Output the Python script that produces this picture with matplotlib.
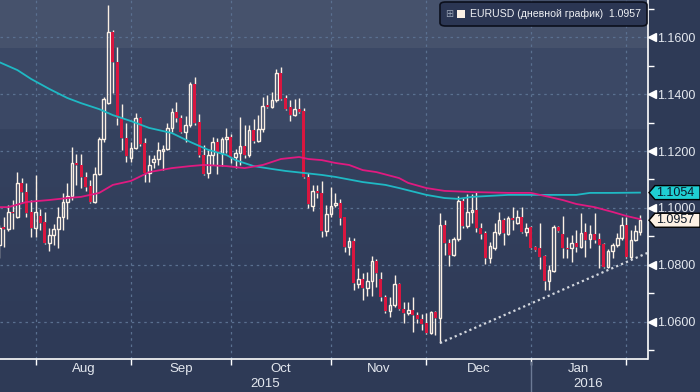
import matplotlib
matplotlib.use('Agg')
import matplotlib.pyplot as plt
import matplotlib.patches as mpatches
from matplotlib.transforms import blended_transform_factory, ScaledTranslation
import numpy as np
import pandas as pd

plt.rcParams['font.family'] = ['Liberation Sans', 'DejaVu Sans']

# EURUSD, дневные свечи (22.07.2015 - 04.02.2016)
opens = [1.0870, 1.0933, 1.0926, 1.0986, 1.0968, 1.1088, 1.1056, 1.0986,
         1.0930, 1.0972, 1.0951, 1.0877, 1.0905, 1.0926, 1.0968, 1.1021, 1.1042, 1.1158, 1.1151, 1.1109,
         1.1077, 1.1021, 1.1119, 1.1242, 1.1370, 1.1618, 1.1512, 1.1316, 1.1246,
         1.1175, 1.1211, 1.1316, 1.1228, 1.1123, 1.1161, 1.1172, 1.1200, 1.1207, 1.1281, 1.1337,
         1.1316, 1.1267, 1.1291, 1.1435, 1.1302, 1.1186, 1.1123, 1.1186, 1.1232, 1.1193, 1.1242,
         1.1249, 1.1179, 1.1193, 1.1218, 1.1186, 1.1274, 1.1235, 1.1277, 1.1361, 1.1354, 1.1379,
         1.1474, 1.1386, 1.1354, 1.1326, 1.1347, 1.1340, 1.1109, 1.1007, 1.1060, 1.1053, 1.0919,
         1.0979, 1.1010, 1.1017, 1.0968, 1.0863, 1.0884, 1.0733, 1.0751, 1.0719, 1.0744, 1.0814,
         1.0751, 1.0688, 1.0638, 1.0659, 1.0733, 1.0645, 1.0631, 1.0642, 1.0624, 1.0610, 1.0596,
         1.0561, 1.0635, 1.0614, 1.0940, 1.0877, 1.0835, 1.0891, 1.1024, 1.0937, 1.0986, 1.0993,
         1.0930, 1.0912, 1.0824, 1.0860, 1.0912, 1.0958, 1.0909, 1.0965, 1.0947, 1.0968, 1.0916,
         1.0933, 1.0863, 1.0860, 1.0831, 1.0744, 1.0779, 1.0933, 1.0909, 1.0860, 1.0860, 1.0877,
         1.0863, 1.0916, 1.0891, 1.0909, 1.0891, 1.0874, 1.0793, 1.0849, 1.0870, 1.0895, 1.0940,
         1.0828, 1.0888, 1.0916]
closes = [1.0930, 1.0926, 1.0986, 1.0982, 1.1088, 1.1056, 1.0982, 1.0930,
          1.0986, 1.0947, 1.0877, 1.0905, 1.0926, 1.0968, 1.1021, 1.1042, 1.1158, 1.1151, 1.1109, 1.1074,
          1.1021, 1.1119, 1.1242, 1.1383, 1.1618, 1.1512, 1.1316, 1.1246, 1.1182,
          1.1211, 1.1316, 1.1225, 1.1123, 1.1151, 1.1172, 1.1204, 1.1207, 1.1281, 1.1337, 1.1316,
          1.1267, 1.1291, 1.1435, 1.1298, 1.1186, 1.1119, 1.1186, 1.1232, 1.1196, 1.1242, 1.1249,
          1.1179, 1.1193, 1.1218, 1.1186, 1.1274, 1.1235, 1.1277, 1.1358, 1.1354, 1.1379, 1.1474,
          1.1383, 1.1347, 1.1326, 1.1347, 1.1337, 1.1109, 1.1014, 1.1060, 1.1053, 1.0919, 1.0979,
          1.1007, 1.1017, 1.0965, 1.0863, 1.0884, 1.0737, 1.0751, 1.0719, 1.0744, 1.0814, 1.0772,
          1.0688, 1.0638, 1.0659, 1.0733, 1.0645, 1.0631, 1.0642, 1.0624, 1.0610, 1.0593, 1.0561,
          1.0635, 1.0614, 1.0940, 1.0877, 1.0835, 1.0891, 1.1024, 1.0937, 1.0986, 1.0993, 1.0930,
          1.0909, 1.0824, 1.0867, 1.0916, 1.0958, 1.0912, 1.0965, 1.0958, 1.0968, 1.0916, 1.0930,
          1.0860, 1.0853, 1.0828, 1.0744, 1.0782, 1.0933, 1.0919, 1.0860, 1.0856, 1.0877, 1.0863,
          1.0912, 1.0888, 1.0909, 1.0888, 1.0870, 1.0793, 1.0849, 1.0870, 1.0895, 1.0940, 1.0828,
          1.0888, 1.0919, 1.0957]
highs = [1.0940, 1.0968, 1.1010, 1.1028, 1.1126, 1.1105, 1.1088, 1.1028,
         1.1116, 1.0996, 1.0986, 1.0930, 1.0944, 1.1003, 1.1053, 1.1088, 1.1214, 1.1190, 1.1190, 1.1126,
         1.1098, 1.1144, 1.1249, 1.1390, 1.1712, 1.1625, 1.1565, 1.1365, 1.1298,
         1.1232, 1.1333, 1.1319, 1.1246, 1.1186, 1.1186, 1.1232, 1.1221, 1.1298, 1.1351, 1.1372,
         1.1326, 1.1323, 1.1442, 1.1460, 1.1330, 1.1221, 1.1204, 1.1249, 1.1246, 1.1249, 1.1281,
         1.1260, 1.1207, 1.1319, 1.1291, 1.1291, 1.1312, 1.1326, 1.1390, 1.1397, 1.1407, 1.1488,
         1.1495, 1.1397, 1.1379, 1.1383, 1.1386, 1.1351, 1.1123, 1.1081, 1.1081, 1.1095, 1.1010,
         1.1074, 1.1053, 1.1032, 1.0968, 1.0898, 1.0895, 1.0789, 1.0772, 1.0775, 1.0831, 1.0821,
         1.0775, 1.0695, 1.0688, 1.0765, 1.0737, 1.0670, 1.0670, 1.0688, 1.0635, 1.0628, 1.0631,
         1.0638, 1.0638, 1.0982, 1.0958, 1.0891, 1.0898, 1.1042, 1.1035, 1.1049, 1.1049, 1.1056,
         1.0947, 1.0919, 1.0881, 1.0947, 1.0986, 1.0965, 1.0972, 1.1003, 1.0993, 1.1003, 1.0947,
         1.0937, 1.0867, 1.0947, 1.0835, 1.0800, 1.0940, 1.0937, 1.0972, 1.0898, 1.0905, 1.0923,
         1.0982, 1.0947, 1.0940, 1.0982, 1.0912, 1.0877, 1.0856, 1.0877, 1.0912, 1.0968, 1.0968,
         1.0923, 1.0940, 1.0975]
lows = [1.0824, 1.0863, 1.0919, 1.0926, 1.0965, 1.1021, 1.0968, 1.0898,
        1.0898, 1.0923, 1.0875, 1.0849, 1.0870, 1.0860, 1.0923, 1.0961, 1.1028, 1.1081, 1.1070, 1.1060,
        1.1017, 1.1019, 1.1116, 1.1232, 1.1365, 1.1404, 1.1291, 1.1204, 1.1161,
        1.1161, 1.1208, 1.1218, 1.1091, 1.1091, 1.1140, 1.1151, 1.1133, 1.1204, 1.1267, 1.1302,
        1.1263, 1.1232, 1.1284, 1.1291, 1.1179, 1.1116, 1.1105, 1.1151, 1.1119, 1.1147, 1.1193,
        1.1158, 1.1140, 1.1151, 1.1175, 1.1179, 1.1228, 1.1232, 1.1267, 1.1350, 1.1351, 1.1372,
        1.1379, 1.1344, 1.1305, 1.1323, 1.1333, 1.1105, 1.1000, 1.0989, 1.1035, 1.0898, 1.0902,
        1.0968, 1.1003, 1.0940, 1.0845, 1.0835, 1.0712, 1.0719, 1.0677, 1.0691, 1.0691, 1.0723,
        1.0674, 1.0631, 1.0617, 1.0652, 1.0642, 1.0596, 1.0624, 1.0565, 1.0596, 1.0572, 1.0558,
        1.0558, 1.0554, 1.0526, 1.0835, 1.0796, 1.0831, 1.0884, 1.0930, 1.0930, 1.0947, 1.0916,
        1.0891, 1.0803, 1.0807, 1.0853, 1.0905, 1.0870, 1.0905, 1.0923, 1.0944, 1.0912, 1.0902,
        1.0857, 1.0849, 1.0786, 1.0712, 1.0712, 1.0775, 1.0916, 1.0824, 1.0824, 1.0810, 1.0845,
        1.0860, 1.0828, 1.0860, 1.0877, 1.0789, 1.0790, 1.0789, 1.0824, 1.0863, 1.0888, 1.0824,
        1.0821, 1.0884, 1.0905]

ma_cyan_idx = [0, 4, 7, 11, 15, 18, 22, 25, 29, 33, 38, 42, 46, 50, 52, 56, 60, 63, 67, 71,
               74, 80, 85, 88, 94, 98, 101, 104, 112, 121, 127, 130, 135, 141]
ma_cyan = [1.1512, 1.1484, 1.1453, 1.1418, 1.1386, 1.1368, 1.1347, 1.1326, 1.1305, 1.1281,
           1.1263, 1.1232, 1.1204, 1.1186, 1.1168, 1.1147, 1.1137, 1.1130, 1.1123, 1.1116,
           1.1109, 1.1091, 1.1081, 1.1070, 1.1046, 1.1035, 1.1032, 1.1039, 1.1046, 1.1046,
           1.1046, 1.1053, 1.1053, 1.1054]
ma_mag_idx = [0, 2, 6, 11, 15, 18, 22, 25, 29, 33, 38, 42, 45, 50, 54, 58, 62, 66, 68, 71,
              74, 77, 80, 83, 88, 90, 94, 98, 104, 112, 117, 121, 124, 127, 131, 135, 138, 141]
ma_mag = [1.1003, 1.1003, 1.1021, 1.1028, 1.1035, 1.1039, 1.1053, 1.1081, 1.1095, 1.1126,
          1.1140, 1.1147, 1.1151, 1.1147, 1.1140, 1.1151, 1.1172, 1.1179, 1.1172, 1.1168,
          1.1158, 1.1151, 1.1133, 1.1126, 1.1105, 1.1088, 1.1070, 1.1060, 1.1056, 1.1053,
          1.1053, 1.1039, 1.1028, 1.1014, 1.1003, 1.0986, 1.0972, 1.0961]

trend_idx = [97, 142.6]
trend_val = [1.0526, 1.0842]

y_major = [1.06, 1.08, 1.10, 1.12, 1.14, 1.16]
y_minor = [1.05, 1.07, 1.09, 1.11, 1.13, 1.15, 1.17]
last_cyan = 1.1054
last_close = 1.0957

# цвета
BG_TOP = '#46526c'; BG_MID = '#3b4865'; BG_LOW1 = '#35425f'; BG_LOW2 = '#2e3a57'
FIG_BG = '#2e3a56'
CREAM = '#fbf0e4'; RED = '#d9163f'; CYAN = '#1fb9c4'; MAGENTA = '#e01a80'
GRID = '#5a7090'; TEXT = '#e4e8ef'

W, H = 700, 392
fig = plt.figure(figsize=(W / 100, H / 100), dpi=100, facecolor=FIG_BG)
ax = fig.add_axes([0, 33 / H, 647.5 / W, 359 / H])

x = np.arange(len(closes))
dates = pd.bdate_range('2015-07-22', periods=len(closes))
month_start = [i for i in range(1, len(dates)) if dates[i].month != dates[i - 1].month]

xlim = (0.17, 142.66)
ylim = (1.0470, 1.1730)
ax.set_xlim(*xlim)
ax.set_ylim(*ylim)

# фон полосами
ax.axhspan(1.1561, ylim[1], color=BG_TOP, zorder=0, lw=0)
ax.axhspan(1.1274, 1.1561, color=BG_MID, zorder=0, lw=0)
grad = np.linspace(0, 1, 100).reshape(-1, 1)
cmap = matplotlib.colors.LinearSegmentedColormap.from_list('bg', [BG_LOW2, BG_LOW1])
ax.imshow(grad, extent=(xlim[0], xlim[1], ylim[0], 1.1274), origin='lower',
          aspect='auto', cmap=cmap, zorder=0)

# сетка
for v in y_major:
    ax.axhline(v, color=GRID, lw=0.9, ls=(0, (2, 3)), zorder=1)
for m in month_start:
    ax.axvline(m, color=GRID, lw=0.9, ls=(0, (2, 3)), zorder=1)

# свечи
o = np.array(opens); c = np.array(closes); h = np.array(highs); l = np.array(lows)
up = c >= o
top = np.maximum(o, c); bot = np.minimum(o, c)
ax.vlines(x, top, h, color=CREAM, lw=1.0, zorder=3)
ax.vlines(x, l, bot, color=CREAM, lw=1.0, zorder=3)
hgt = np.maximum(top - bot, 0.0002)
ax.bar(x[up], hgt[up], bottom=bot[up], width=0.58, facecolor='none',
       edgecolor=CREAM, lw=1.0, zorder=4)
ax.bar(x[~up], hgt[~up], bottom=bot[~up], width=0.66, color=RED, lw=0, zorder=4)

# средние и линия тренда
ax.plot(ma_cyan_idx, ma_cyan, color=CYAN, lw=1.3, zorder=5)
ax.plot(ma_mag_idx, ma_mag, color=MAGENTA, lw=1.3, zorder=5)
ax.plot(trend_idx, trend_val, color='#d3d7de', lw=1.6, ls=(0, (1, 1.4)), zorder=5)

# оси
for s in ['top', 'left']:
    ax.spines[s].set_visible(False)
for s in ['bottom', 'right']:
    ax.spines[s].set_color('white')
    ax.spines[s].set_linewidth(1.2)
    ax.spines[s].set_zorder(6)

ax.yaxis.tick_right()
ax.set_yticks(y_major)
ax.set_yticklabels(['%.4f' % v for v in y_major])
ax.set_yticks(y_minor, minor=True)
ax.tick_params(axis='y', which='major', length=0, pad=7, labelsize=9, labelcolor=TEXT)
ax.tick_params(axis='y', which='minor', length=4, width=1, color='white')
ax.set_xticks(month_start)
ax.set_xticklabels([])
ax.tick_params(axis='x', which='major', length=4, width=1, color='white')

tri = blended_transform_factory(ax.transAxes, ax.transData) + ScaledTranslation(4.5 / 100, 0, fig.dpi_scale_trans)
ax.plot([1.0] * len(y_major), y_major, ls='none', marker='<', ms=5.5, color='white',
        transform=tri, clip_on=False, zorder=7)

# подписи месяцев и лет (только полные интервалы между началами месяцев)
bt = blended_transform_factory(ax.transData, fig.transFigure)
for a, b in zip(month_start[:-1], month_start[1:]):
    ax.text((a + b) / 2, (H - 369) / H, dates[a].strftime('%b'), transform=bt,
            ha='center', va='center', fontsize=9.5, color=TEXT)
year_split = [i for i in month_start if dates[i].year != dates[i - 1].year][0]
ax.text(year_split / 2, (H - 384) / H, str(dates[0].year), transform=bt,
        ha='center', va='center', fontsize=9.5, color=TEXT)
ax.text((year_split + len(closes)) / 2, (H - 384) / H, str(dates[-1].year), transform=bt,
        ha='center', va='center', fontsize=9.5, color=TEXT)
ax.plot([year_split, year_split], [0, (H - 362) / H], transform=bt, color='#6c7a95',
        lw=1, clip_on=False)

# ценовые метки справа
def tag(val, fc):
    yc = ax.transData.transform((0, val))[1]
    pts = [(649, yc), (655, yc + 7), (700, yc + 7), (700, yc - 7), (655, yc - 7)]
    poly = mpatches.Polygon([(px / W, py / H) for px, py in pts], closed=True,
                            transform=fig.transFigure, fc=fc, ec='black', lw=1, zorder=10)
    fig.add_artist(poly)
    fig.text(656 / W, yc / H, '%.4f' % val, ha='left', va='center', fontsize=9,
             color='#0c1828', zorder=11)

tag(last_cyan, '#1fcfd3')
tag(last_close, '#fdf1e4')

# легенда
leg = mpatches.FancyBboxPatch((440 / W, (H - 26) / H), 207 / W, 24 / H,
                              boxstyle='round,pad=0,rounding_size=0.008',
                              transform=fig.transFigure, fc='#2b3653', ec='#0b0f1c',
                              lw=1.2, zorder=10)
fig.add_artist(leg)
fig.text(449 / W, (H - 14) / H, '⊞', ha='center', va='center', fontsize=7,
         color='#9aa4b6', family='DejaVu Sans', zorder=11)
fig.add_artist(mpatches.Rectangle((457 / W, (H - 18) / H), 8 / W, 8 / H,
                                  transform=fig.transFigure, fc=CREAM, ec='none', zorder=11))
fig.text(470 / W, (H - 14) / H, 'EURUSD (дневной график)  %.4f' % last_close,
         ha='left', va='center', fontsize=7.6, color='#eef0f4', zorder=11)

fig.savefig('out.png', dpi=100, facecolor=FIG_BG)
